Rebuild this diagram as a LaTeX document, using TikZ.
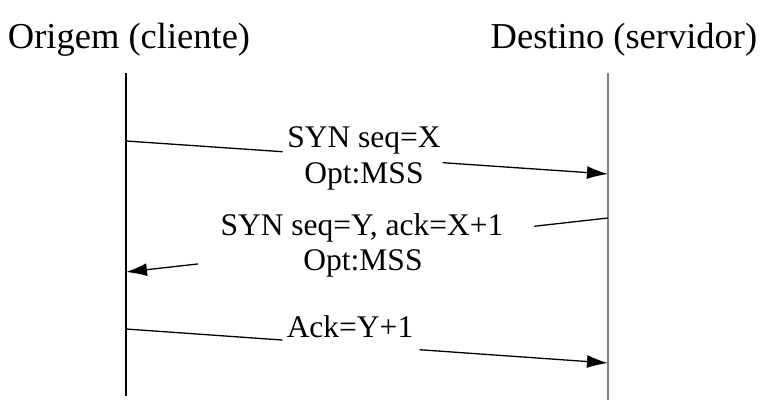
\documentclass[tikz,border=0pt]{standalone}
\usepackage{fontspec}
\setmainfont{Liberation Serif}
\usetikzlibrary{arrows.meta,calc}
\tikzset{
  msg/.style={line width=1.3pt,-{Latex[length=21pt,width=13pt]}},
  msgline/.style={line width=1.3pt},
  lbl/.style={font=\fontsize{31.5pt}{36pt}\selectfont,align=center,inner sep=0pt},
  ttl/.style={font=\fontsize{36.5pt}{40pt}\selectfont,inner sep=0pt,anchor=base},
}
\begin{document}
\begin{tikzpicture}[x=1pt,y=-1pt]
\useasboundingbox (0,0) rectangle (763,405);
% titles
\node[ttl] (t1) at (129,48) {Origem (cliente)};
\node[ttl] (t2) at (624,48) {Destino (servidor)};
% lifelines
\coordinate (lt) at (126,73);
\coordinate (lb) at (126,396);
\coordinate (rt) at (608,73);
\coordinate (rb) at (608,400);
\draw[line width=2.4pt] (lt) -- (lb);
\draw[line width=2pt,color=black!50] (rt) -- (rb);
% message 1
\coordinate (s1) at (126,141);
\coordinate (e1) at (608,174);
\draw[msgline] (s1) -- ($(s1)!0.325!(e1)$);
\draw[msg] ($(s1)!0.657!(e1)$) -- (e1);
\node[lbl,anchor=base] (m1a) at (364,147) {SYN seq=X};
\node[lbl,anchor=base] (m1b) at (364,183) {Opt:MSS};
% message 2
\coordinate (s2) at (608,218);
\coordinate (e2) at (126,272);
\draw[msgline] (s2) -- ($(s2)!0.153!(e2)$);
\draw[msg] ($(s2)!0.851!(e2)$) -- (e2);
\node[lbl,anchor=base] (m2a) at (362,235) {SYN seq=Y, ack=X+1};
\node[lbl,anchor=base] (m2b) at (363,270) {Opt:MSS};
% message 3
\coordinate (s3) at (126,329);
\coordinate (e3) at (608,363);
\draw[msgline] (s3) -- ($(s3)!0.325!(e3)$);
\draw[msg] ($(s3)!0.609!(e3)$) -- (e3);
\node[lbl,anchor=base] (m3) at (350,337) {Ack=Y+1};
\end{tikzpicture}
\end{document}
